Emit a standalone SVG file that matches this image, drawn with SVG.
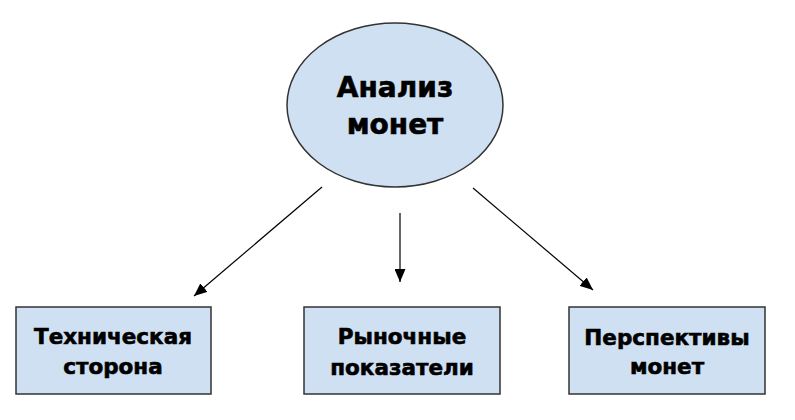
<svg xmlns="http://www.w3.org/2000/svg" width="795" height="420" viewBox="0 0 795 420">
<style>
.shape{fill:#cfe0f2;stroke:#333;stroke-width:1.5}
.t{font-family:"DejaVu Sans","Liberation Sans",sans-serif;font-weight:bold;fill:#000;stroke:#000;stroke-width:0.6;text-anchor:middle}
.big{font-size:28px}
.sm{font-size:21.5px}
.edge{stroke:#000;stroke-width:1.2;fill:none;marker-end:url(#ah)}
</style>
<defs>
<marker id="ah" markerWidth="13" markerHeight="11" refX="13" refY="5.5" orient="auto" markerUnits="userSpaceOnUse">
<path d="M0,0 L13,5.5 L0,11 Z" fill="#000"/>
</marker>
</defs>
<rect width="795" height="420" fill="#fff"/>
<g id="connectors">
<line class="edge" x1="322" y1="187" x2="194" y2="296"/>
<line class="edge" x1="400" y1="213" x2="400" y2="282"/>
<line class="edge" x1="473" y1="188" x2="593" y2="290"/>
</g>
<g id="analysis">
<ellipse class="shape" cx="395" cy="105" rx="108" ry="82"/>
<text class="t big" x="395" y="97">Анализ</text>
<text class="t big" x="395" y="134">монет</text>
</g>
<g id="tech">
<rect class="shape" x="16" y="307" width="195" height="87"/>
<text class="t sm" x="113" y="344">Техническая</text>
<text class="t sm" x="113" y="374">сторона</text>
</g>
<g id="market">
<rect class="shape" x="304" y="307" width="196" height="87"/>
<text class="t sm" x="402" y="344">Рыночные</text>
<text class="t sm" x="402" y="375">показатели</text>
</g>
<g id="prospects">
<rect class="shape" x="569" y="307" width="196" height="87"/>
<text class="t sm" x="667" y="345">Перспективы</text>
<text class="t sm" x="667" y="374">монет</text>
</g>
</svg>
